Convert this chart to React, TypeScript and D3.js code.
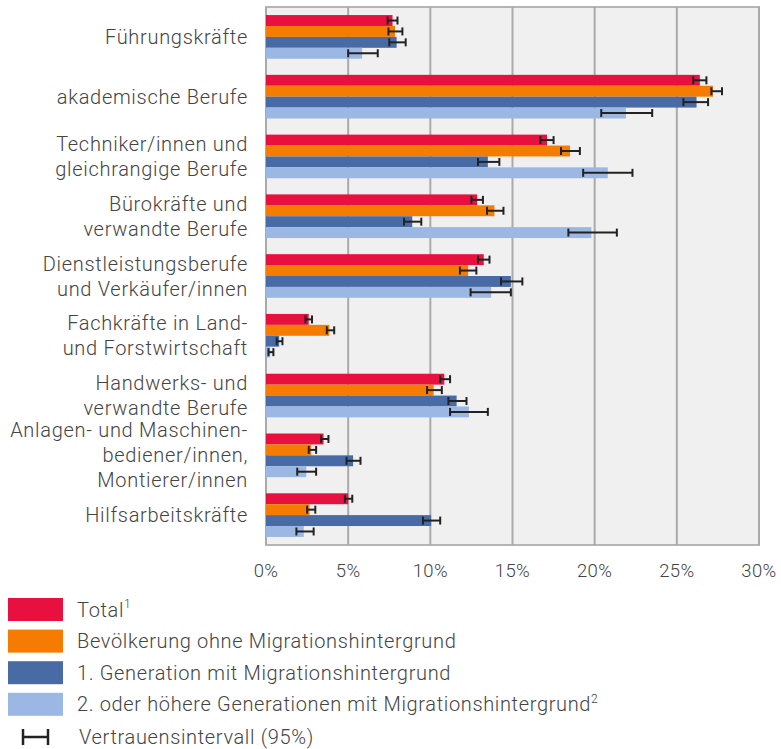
import React from 'react';
import * as d3 from 'd3';

// ── data ────────────────────────────────────────────────────────────────
const categories = [
  'Führungskräfte',
  'akademische Berufe',
  'Techniker/innen und gleichrangige Berufe',
  'Bürokräfte und verwandte Berufe',
  'Dienstleistungsberufe und Verkäufer/innen',
  'Fachkräfte in Land- und Forstwirtschaft',
  'Handwerks- und verwandte Berufe',
  'Anlagen- und Maschinenbediener/innen, Montierer/innen',
  'Hilfsarbeitskräfte',
];

const categoryLines = [
  ['Führungskräfte'],
  ['akademische Berufe'],
  ['Techniker/innen und', 'gleichrangige Berufe'],
  ['Bürokräfte und', 'verwandte Berufe'],
  ['Dienstleistungsberufe', 'und Verkäufer/innen'],
  ['Fachkräfte in Land-', 'und Forstwirtschaft'],
  ['Handwerks- und', 'verwandte Berufe'],
  ['Anlagen- und Maschinen-', 'bediener/innen,', 'Montierer/innen'],
  ['Hilfsarbeitskräfte'],
];

const seriesKeys = ['total', 'ohne', 'gen1', 'gen2'];
const seriesColors = ['#e8103f', '#f57c00', '#486ba6', '#9ab8e3'];

// percent values
const totalValues = [7.7, 26.4, 17.1, 12.85, 13.25, 2.6, 10.85, 3.5, 5.0];
const ohneValues = [7.85, 27.2, 18.5, 13.9, 12.3, 3.85, 10.2, 2.75, 2.65];
const gen1Values = [7.95, 26.2, 13.5, 8.9, 14.9, 0.8, 11.6, 5.3, 10.05];
const gen2Values = [5.85, 21.9, 20.8, 19.8, 13.7, 0.25, 12.35, 2.45, 2.3];

// 95% confidence intervals
const totalLow = [7.4, 26.0, 16.7, 12.5, 12.9, 2.4, 10.6, 3.35, 4.8];
const totalHigh = [8.0, 26.8, 17.5, 13.2, 13.6, 2.8, 11.2, 3.8, 5.25];
const ohneLow = [7.45, 27.1, 17.95, 13.45, 11.8, 3.7, 9.8, 2.6, 2.5];
const ohneHigh = [8.3, 27.75, 19.1, 14.45, 12.8, 4.15, 10.7, 3.05, 3.0];
const gen1Low = [7.5, 25.4, 12.9, 8.4, 14.3, 0.65, 11.1, 4.9, 9.55];
const gen1High = [8.5, 26.9, 14.2, 9.45, 15.6, 1.0, 12.2, 5.75, 10.6];
const gen2Low = [5.0, 20.4, 19.3, 18.4, 12.45, 0.15, 11.2, 1.9, 1.85];
const gen2High = [6.8, 23.5, 22.3, 21.35, 14.9, 0.45, 13.5, 3.05, 2.9];

const xTicks = [0, 5, 10, 15, 20, 25, 30];

const legendLabels = [
  { text: 'Total', sup: '1' },
  { text: 'Bevölkerung ohne Migrationshintergrund', sup: '' },
  { text: '1. Generation mit Migrationshintergrund', sup: '' },
  { text: '2. oder höhere Generationen mit Migrationshintergrund', sup: '2' },
];

const values = [totalValues, ohneValues, gen1Values, gen2Values];
const lows = [totalLow, ohneLow, gen1Low, gen2Low];
const highs = [totalHigh, ohneHigh, gen1High, gen2High];

const W = 781;
const H = 749;
const font = 'Roboto, sans-serif';
const textColor = '#444';

const App: React.FC = () => {
  const plot = { left: 266, right: 759, top: 7, bottom: 545 };

  const x = d3.scaleLinear().domain([0, 30]).range([plot.left, plot.right]);
  const y0 = d3
    .scaleBand<string>()
    .domain(categories)
    .range([plot.top, plot.bottom])
    .paddingInner(0.27)
    .paddingOuter(0.135);
  const y1 = d3
    .scaleBand<string>()
    .domain(seriesKeys)
    .range([0, y0.bandwidth()]);

  const cap = 4;

  return (
    <svg
      width={W}
      height={H}
      style={{ position: 'absolute', left: 0, top: 0 }}
      fontFamily={font}
    >
      {/* plot background */}
      <rect
        x={plot.left}
        y={plot.top}
        width={plot.right - plot.left}
        height={plot.bottom - plot.top}
        fill="#f0f0f0"
        stroke="#b4b4b4"
        strokeWidth={2}
      />
      {/* grid */}
      {xTicks.map(t => (
        <line
          key={t}
          x1={x(t)}
          x2={x(t)}
          y1={plot.top}
          y2={plot.bottom}
          stroke="#aaa"
          strokeWidth={2}
        />
      ))}

      {/* bars */}
      {categories.map((c, i) => (
        <g key={c} transform={`translate(0,${y0(c)})`}>
          {seriesKeys.map((k, s) => (
            <rect
              key={k}
              x={x(0)}
              y={y1(k)}
              width={x(values[s][i]) - x(0)}
              height={y1.bandwidth()}
              fill={seriesColors[s]}
            />
          ))}
          {seriesKeys.map((k, s) => {
            const cy = (y1(k) ?? 0) + y1.bandwidth() / 2;
            const a = x(lows[s][i]);
            const b = x(highs[s][i]);
            return (
              <g key={k} stroke="#222" strokeWidth={2}>
                <line x1={a} x2={b} y1={cy} y2={cy} />
                <line x1={a} x2={a} y1={cy - cap} y2={cy + cap} />
                <line x1={b} x2={b} y1={cy - cap} y2={cy + cap} />
              </g>
            );
          })}
        </g>
      ))}

      {/* category labels */}
      {categories.map((c, i) => {
        const lines = categoryLines[i];
        const cy = (y0(c) ?? 0) + y0.bandwidth() / 2;
        const lh = 25;
        const start = cy - ((lines.length - 1) * lh) / 2;
        return (
          <text
            key={c}
            x={248}
            textAnchor="end"
            fontSize={20}
            letterSpacing={0.7}
            fontWeight={300}
            fill={textColor}
          >
            {lines.map((l, j) => (
              <tspan key={j} x={248} y={start + j * lh} dy="0.35em">
                {l}
              </tspan>
            ))}
          </text>
        );
      })}

      {/* x axis labels */}
      {xTicks.map(t => (
        <text
          key={t}
          x={x(t)}
          y={571}
          dy="0.35em"
          textAnchor="middle"
          fontSize={18.5}
          letterSpacing={0.4}
          fontWeight={300}
          fill={textColor}
        >
          {`${t}%`}
        </text>
      ))}

      {/* legend */}
      {legendLabels.map((l, s) => {
        const yTop = 598 + s * 31.6;
        return (
          <g key={l.text}>
            <rect x={8} y={yTop} width={55} height={23} fill={seriesColors[s]} />
            <text
              x={77}
              y={yTop + 11.5}
              dy="0.35em"
              fontSize={20}
              letterSpacing={0.65}
              fontWeight={300}
              fill={textColor}
            >
              {l.text}
              {l.sup && (
                <tspan fontSize={12} dy="-0.7em">
                  {l.sup}
                </tspan>
              )}
            </text>
          </g>
        );
      })}
      <g stroke="#222" strokeWidth={2.5}>
        <line x1={23} x2={48} y1={737} y2={737} />
        <line x1={23} x2={23} y1={729} y2={745} />
        <line x1={48} x2={48} y1={729} y2={745} />
      </g>
      <text
        x={79}
        y={737}
        dy="0.35em"
        fontSize={20}
        letterSpacing={0.65}
        fontWeight={300}
        fill={textColor}
      >
        Vertrauensintervall (95%)
      </text>
    </svg>
  );
};

export default App;
